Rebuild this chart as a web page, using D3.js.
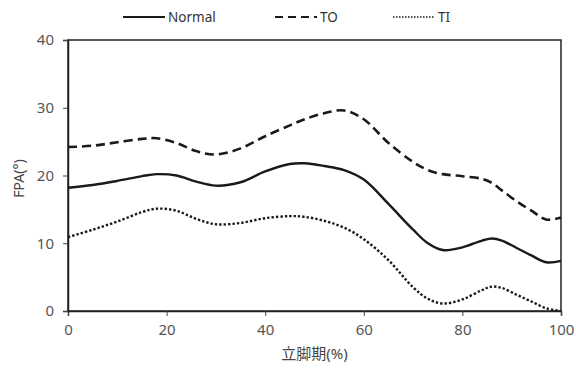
<!DOCTYPE html>
<html>
<head>
<meta charset="utf-8">
<script src="https://cdn.jsdelivr.net/npm/d3@7"></script>
<style>
  body { margin: 0; background: #fff; }
  text { font-family: "Noto Sans", "Noto Sans CJK SC", sans-serif; }
</style>
</head>
<body>
<svg id="chart"></svg>
<script>
// stance phase (%) sample points
var stance = [0, 5, 10, 15, 18, 22, 26, 30, 35, 40, 45, 48, 52, 56, 60, 65, 70, 73, 76, 80, 84, 86, 88, 91, 94, 97, 100];
var normal = [18.2, 18.6, 19.2, 19.9, 20.2, 20.0, 19.1, 18.5, 19.0, 20.6, 21.7, 21.8, 21.4, 20.8, 19.4, 15.8, 12.0, 10.0, 9.0, 9.4, 10.4, 10.7, 10.4, 9.3, 8.2, 7.2, 7.4];
var toe_out = [24.2, 24.4, 24.9, 25.4, 25.5, 24.8, 23.6, 23.1, 24.0, 25.8, 27.4, 28.3, 29.2, 29.6, 28.3, 24.8, 22.0, 20.8, 20.2, 19.9, 19.5, 18.9, 17.8, 16.2, 14.8, 13.5, 13.8];
var toe_in = [10.9, 12.0, 13.2, 14.6, 15.1, 14.8, 13.6, 12.8, 13.0, 13.7, 14.0, 13.9, 13.3, 12.3, 10.6, 7.5, 3.5, 1.8, 1.1, 1.7, 3.1, 3.6, 3.4, 2.4, 1.4, 0.4, 0.0];
var xTicks = [0, 20, 40, 60, 80, 100];
var yTicks = [0, 10, 20, 30, 40];
var seriesNames = ["Normal", "TO", "TI"];

var W = 576, H = 374,
    margin = {left: 68, right: 15, top: 40, bottom: 63};

var svg = d3.select("#chart").attr("width", W).attr("height", H);

var x = d3.scaleLinear().domain([0, 100]).range([margin.left, W - margin.right]);
var y = d3.scaleLinear().domain([0, 40]).range([H - margin.bottom, margin.top]);

// frame
svg.append("rect")
    .attr("x", x(0)).attr("y", y(40))
    .attr("width", x(100) - x(0)).attr("height", y(0) - y(40))
    .attr("fill", "none").attr("stroke", "#222").attr("stroke-width", 1.5);

var xAxis = svg.append("g")
    .attr("transform", "translate(0," + y(0) + ")")
    .call(d3.axisBottom(x).tickValues(xTicks).tickSize(5).tickPadding(8));
var yAxis = svg.append("g")
    .attr("transform", "translate(" + x(0) + ",0)")
    .call(d3.axisLeft(y).tickValues(yTicks).tickSize(5).tickPadding(9));

[xAxis, yAxis].forEach(function(g) {
    g.select(".domain").attr("stroke", "#222").attr("stroke-width", 1.5);
    g.selectAll(".tick line").attr("stroke", "#444");
    g.selectAll("text").attr("fill", "#555").style("font-size", "15px")
        .style("font-family", "'Noto Sans', sans-serif");
});

var line = d3.line()
    .x(function(d) { return x(d[0]); })
    .y(function(d) { return y(d[1]); })
    .curve(d3.curveCatmullRom.alpha(0.5));

var styles = [
    {data: normal, dash: null, width: 2.4},
    {data: toe_out, dash: "9,5", width: 2.6},
    {data: toe_in, dash: "2.4,2", width: 2.4}
];

styles.forEach(function(s) {
    svg.append("path")
        .datum(stance.map(function(v, i) { return [v, s.data[i]]; }))
        .attr("d", line)
        .attr("fill", "none")
        .attr("stroke", "#1a1a1a")
        .attr("stroke-width", s.width)
        .attr("stroke-dasharray", s.dash);
});

// legend
var legendX = [123, 275, 393];
var legend = svg.append("g");
seriesNames.forEach(function(name, i) {
    legend.append("line")
        .attr("x1", legendX[i]).attr("x2", legendX[i] + 42)
        .attr("y1", 17).attr("y2", 17)
        .attr("stroke", "#1a1a1a")
        .attr("stroke-width", i == 2 ? 1.5 : 2)
        .attr("stroke-dasharray", styles[i].dash ? (i == 2 ? "1.5,1.5" : "8,5") : null);
    legend.append("text")
        .attr("x", legendX[i] + 45).attr("y", 22)
        .attr("fill", "#333").style("font-size", "13.5px")
        .text(name);
});

// axis titles
svg.append("text")
    .attr("x", (x(0) + x(100)) / 2).attr("y", 359)
    .attr("text-anchor", "middle")
    .attr("fill", "#444").style("font-size", "15px")
    .text("立脚期(%)");

svg.append("text")
    .attr("transform", "translate(24," + (y(20) + 3) + ") rotate(-90)")
    .attr("text-anchor", "middle")
    .attr("fill", "#444").style("font-size", "14px")
    .text("FPA(°)");
</script>
</body>
</html>
